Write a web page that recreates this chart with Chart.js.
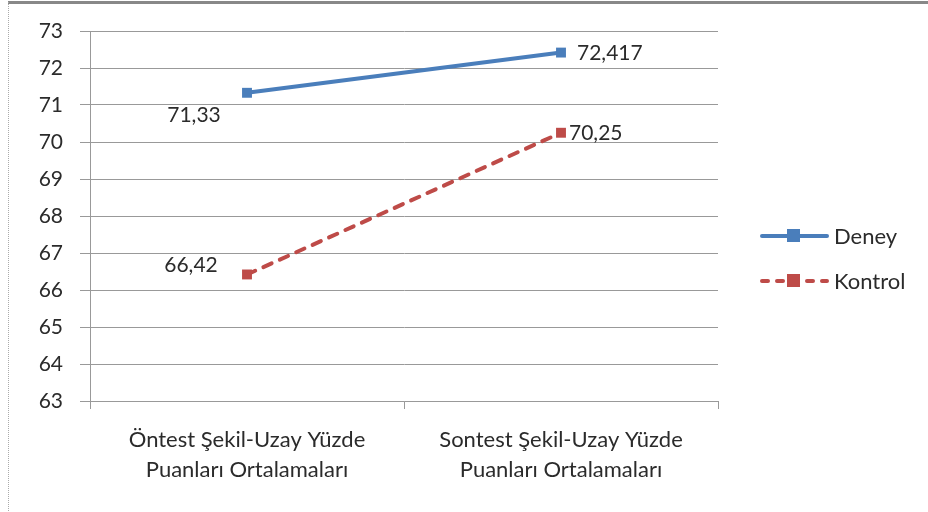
<!DOCTYPE html>
<html>
<head>
<meta charset="utf-8">
<script src="https://cdn.jsdelivr.net/npm/chart.js@4"></script>
<style>
  html, body { margin: 0; padding: 0; background: #fff; }
  #wrap { width: 928px; height: 512px; position: relative; }
</style>
</head>
<body>
<div id="wrap"><canvas id="myChart" width="928" height="512"></canvas></div>
<script>
var categories = [
  ["Öntest Şekil-Uzay Yüzde", "Puanları Ortalamaları"],
  ["Sontest Şekil-Uzay Yüzde", "Puanları Ortalamaları"]
];
var deneyValues = [71.33, 72.417];
var kontrolValues = [66.42, 70.25];
var deneyLabels = ["71,33", "72,417"];
var kontrolLabels = ["66,42", "70,25"];
var yMin = 63;
var yMax = 73;

var FONT = "Lato, 'Open Sans', sans-serif";
var BLUE = "#4a7ebb";
var RED = "#be4b48";
var GRID = "#999999";
var TEXT = "#2b2b2b";

// label offsets relative to each point: [dx, dy, align]
var labelPlacement = [
  [[-53, 22, "center"], [16, 1, "left"]],
  [[-56, -9, "center"], [8, 0, "left"]]
];

var extras = {
  id: "extras",
  beforeDraw: function(chart) {
    var c = chart.ctx;
    c.save();
    // outer frame
    c.strokeStyle = "#888";
    c.lineWidth = 3;
    c.beginPath();
    c.moveTo(8, 2.5);
    c.lineTo(928, 2.5);
    c.stroke();
    c.lineWidth = 1;
    c.setLineDash([1, 1]);
    c.strokeStyle = "#aaa";
    c.beginPath();
    c.moveTo(8.5, 2);
    c.lineTo(8.5, 512);
    c.stroke();
    c.restore();
  },
  afterDatasetsDraw: function(chart) {
    var c = chart.ctx;
    c.save();
    c.font = "21px " + FONT;
    c.fillStyle = TEXT;
    c.textBaseline = "middle";
    var texts = [deneyLabels, kontrolLabels];
    for (var d = 0; d < 2; d++) {
      var meta = chart.getDatasetMeta(d);
      for (var i = 0; i < meta.data.length; i++) {
        var p = meta.data[i];
        var pl = labelPlacement[d][i];
        c.textAlign = pl[2];
        c.fillText(texts[d][i], p.x + pl[0], p.y + pl[1]);
      }
    }
    // legend
    var items = [
      { text: "Deney", color: BLUE, dash: [], y: 236 },
      { text: "Kontrol", color: RED, dash: [6, 9], y: 281 }
    ];
    c.font = "22px " + FONT;
    c.textAlign = "left";
    for (var k = 0; k < items.length; k++) {
      var it = items[k];
      c.strokeStyle = it.color;
      c.lineWidth = 4;
      c.lineCap = "round";
      c.setLineDash(it.dash);
      c.beginPath();
      c.moveTo(762, it.y);
      c.lineTo(827, it.y);
      c.stroke();
      c.setLineDash([]);
      c.fillStyle = it.color;
      c.fillRect(787, it.y - 7, 13, 13);
      c.fillStyle = TEXT;
      c.fillText(it.text, 834, it.y + 1);
    }
    c.restore();
  }
};

new Chart(document.getElementById("myChart").getContext("2d"), {
  type: "line",
  data: {
    labels: categories,
    datasets: [
      {
        label: "Deney",
        data: deneyValues,
        borderColor: BLUE,
        backgroundColor: BLUE,
        borderWidth: 4,
        borderCapStyle: "round",
        pointStyle: "rect",
        pointRadius: 7,
        pointBorderWidth: 0,
        fill: false
      },
      {
        label: "Kontrol",
        data: kontrolValues,
        borderColor: RED,
        backgroundColor: RED,
        borderWidth: 4,
        borderDash: [9, 9],
        borderCapStyle: "round",
        pointStyle: "rect",
        pointRadius: 7,
        pointBorderWidth: 0,
        fill: false
      }
    ]
  },
  options: {
    responsive: false,
    animation: false,
    layout: { padding: { top: 31, right: 210, left: 0, bottom: 0 } },
    plugins: {
      legend: { display: false },
      tooltip: { enabled: false }
    },
    scales: {
      x: {
        offset: true,
        grid: {
          offset: true,
          drawOnChartArea: false,
          drawTicks: true,
          tickLength: 8,
          color: GRID
        },
        border: { display: true, color: GRID, width: 1 },
        ticks: {
          color: TEXT,
          font: { family: FONT, size: 22, lineHeight: 1.36 },
          padding: 16,
          maxRotation: 0
        },
        afterFit: function(scale) { scale.height = 111; }
      },
      y: {
        min: yMin,
        max: yMax,
        ticks: {
          stepSize: 1,
          color: TEXT,
          font: { family: FONT, size: 21 },
          padding: 17
        },
        grid: { color: GRID, tickLength: 10 },
        border: { display: true, color: GRID, width: 1 },
        afterFit: function(scale) { scale.width = 90; }
      }
    }
  },
  plugins: [extras]
});
</script>
</body>
</html>
